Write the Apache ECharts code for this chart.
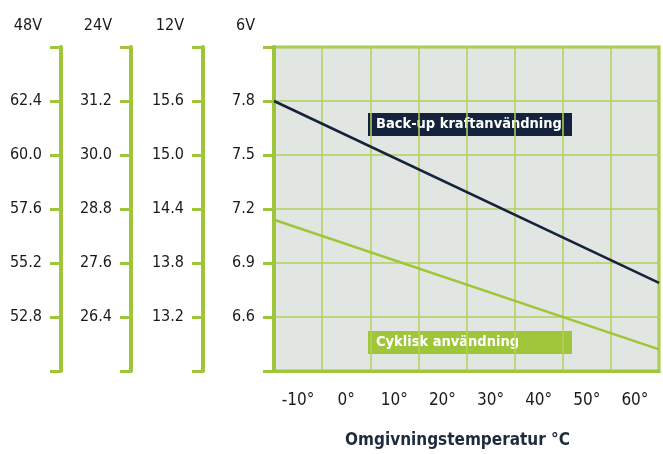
<!DOCTYPE html>
<html>
<head>
<meta charset="utf-8">
<style>
  html, body { margin: 0; padding: 0; background: #ffffff; }
  #chart { width: 663px; height: 454px; }
</style>
<script src="https://cdn.jsdelivr.net/npm/echarts@6/dist/echarts.min.js"></script>
</head>
<body>
<div id="chart"></div>
<script>
// Temperature categories shown under the plot
const tempLabels = ['-10°', '0°', '10°', '20°', '30°', '40°', '50°', '60°'];
// Temperature span covered by the plot area (°C), used for the voltage lines
const tempRange = [-15, 65];

// Charging voltage per 6 V block at the two ends of the temperature span
const backupTemps = [-15, 65];
const backupVolts = [7.8, 6.79];
const cyclicTemps = [-15, 65];
const cyclicVolts = [7.14, 6.42];

// Voltage scales for each battery configuration (ticks, bottom to top)
const ticks6V  = [6.3, 6.6, 6.9, 7.2, 7.5, 7.8, 8.1];
const ticks12V = [12.6, 13.2, 13.8, 14.4, 15.0, 15.6, 16.2];
const ticks24V = [25.2, 26.4, 27.6, 28.8, 30.0, 31.2, 32.4];
const ticks48V = [50.4, 52.8, 55.2, 57.6, 60.0, 62.4, 64.8];

const scaleNames = ['6V', '12V', '24V', '48V'];
const scaleTicks = [ticks6V, ticks12V, ticks24V, ticks48V];

const GREEN = '#9fc63a';
const GRID_GREEN = '#b2d159';
const NAVY = '#14233b';
const TEXT = '#1a1a1a';
const FONT = '"DejaVu Sans Condensed", "DejaVu Sans", sans-serif';

const axisOffsets = [0, 71, 143, 213];

const yAxes = scaleTicks.map((t, i) => ({
  type: 'value',
  position: 'left',
  offset: axisOffsets[i],
  min: t[0],
  max: t[t.length - 1],
  interval: +(t[1] - t[0]).toFixed(2),
  name: scaleNames[i],
  nameLocation: 'end',
  nameGap: 13,
  nameTextStyle: {
    color: TEXT, fontFamily: FONT, fontSize: 16,
    align: 'right', padding: [0, 19, 0, 0]
  },
  axisLine: { show: true, onZero: false, lineStyle: { color: GREEN, width: 4 } },
  // bracket: a tick at every scale step, including both ends
  axisTick: { show: true, length: 11, customValues: t, lineStyle: { color: GREEN, width: 3 } },
  axisLabel: {
    show: true, margin: 19, color: TEXT, fontFamily: FONT, fontSize: 16,
    customValues: t.slice(1, -1),
    formatter: v => v.toFixed(1)
  },
  splitLine: { show: i === 0, lineStyle: { color: GRID_GREEN, width: 1.5 } }
}));

const chart = echarts.init(document.getElementById('chart'), null, { renderer: 'canvas' });

chart.setOption({
  animation: false,
  backgroundColor: '#ffffff',
  grid: {
    left: 274, right: 4, top: 47, bottom: 82,
    show: true, backgroundColor: '#e2e6e2',
    borderColor: GREEN, borderWidth: 3
  },
  xAxis: [
    {
      type: 'category',
      data: tempLabels,
      boundaryGap: true,
      position: 'bottom',
      axisLine: { show: true, lineStyle: { color: GREEN, width: 3 } },
      axisTick: { show: false },
      axisLabel: { margin: 21, color: TEXT, fontFamily: FONT, fontSize: 17 },
      splitLine: { show: true, interval: 0, lineStyle: { color: GRID_GREEN, width: 1.5 } },
      name: 'Omgivningstemperatur °C',
      nameLocation: 'middle',
      nameGap: 61,
      nameTextStyle: {
        color: '#1d2b3f', fontFamily: FONT, fontSize: 17, fontWeight: 'bold',
        padding: [0, 18, 0, 0]
      }
    },
    {
      type: 'value',
      min: tempRange[0],
      max: tempRange[1],
      show: false
    }
  ],
  yAxis: yAxes,
  series: [
    {
      name: 'Back-up kraftanvändning',
      type: 'line',
      xAxisIndex: 1,
      yAxisIndex: 0,
      data: backupTemps.map((x, i) => [x, backupVolts[i]]),
      symbol: 'none',
      lineStyle: { color: NAVY, width: 2.5 },
      z: 5
    },
    {
      name: 'Cyklisk användning',
      type: 'line',
      xAxisIndex: 1,
      yAxisIndex: 0,
      data: cyclicTemps.map((x, i) => [x, cyclicVolts[i]]),
      symbol: 'none',
      lineStyle: { color: GREEN, width: 2.5 },
      z: 5
    }
  ],
  graphic: [
    {
      type: 'group', left: 368, top: 113, z: 20,
      children: [
        { type: 'rect', shape: { x: 0, y: 0, width: 204, height: 23 }, style: { fill: NAVY } },
        {
          type: 'text', x: 8, y: 11.5,
          style: {
            text: 'Back-up kraftanvändning', fill: '#ffffff',
            font: 'bold 14.5px ' + FONT, verticalAlign: 'middle', align: 'left'
          }
        }
      ]
    },
    {
      type: 'group', left: 368, top: 331, z: 20,
      children: [
        { type: 'rect', shape: { x: 0, y: 0, width: 204, height: 23 }, style: { fill: GREEN } },
        {
          type: 'text', x: 8, y: 11.5,
          style: {
            text: 'Cyklisk användning', fill: '#ffffff',
            font: 'bold 14.5px ' + FONT, verticalAlign: 'middle', align: 'left'
          }
        }
      ]
    }
  ]
});
</script>
</body>
</html>
